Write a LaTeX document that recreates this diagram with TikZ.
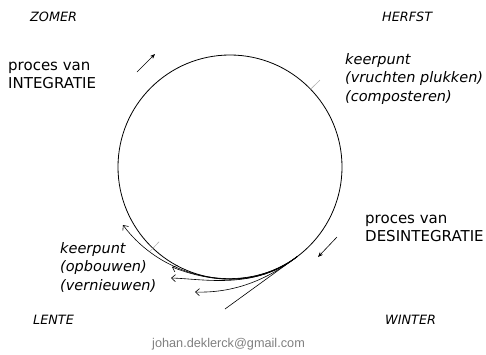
\documentclass[tikz,border=0pt]{standalone}
\usepackage{fontspec}
\setmainfont{DejaVu Sans}
\newfontfamily\mailfont{Liberation Sans}
\usetikzlibrary{arrows.meta, calc}

\begin{document}
\begin{tikzpicture}[
      x=1pt, y=-1pt,
      season/.style={anchor=base west, inner sep=0pt,
                     font=\fontsize{12.8}{15}\selectfont\itshape},
      procestext/.style={anchor=base west, inner sep=0pt, align=left,
                         font=\fontsize{15}{17.5}\selectfont},
      pivot/.style={anchor=base west, inner sep=0pt, align=left,
                    font=\fontsize{14.5}{18.3}\selectfont\itshape},
      ring/.style={draw, line width=0.8pt},
      notch/.style={draw=gray!60, line width=0.6pt},
      flow/.style={-{Stealth[length=5pt, width=4pt]}, line width=0.6pt},
      backarr/.style={-{Straight Barb[length=4pt, width=7pt]}, line width=0.6pt}
    ]
    \useasboundingbox (0,0) rectangle (486,354);

    % seasons
    \node[season] (zomer)  at (30,21.5)  {ZOMER};
    \node[season] (herfst) at (382,21.5) {HERFST};
    \node[season] (lente)  at (33,324.5) {LENTE};
    \node[season] (winter) at (385,324.5) {WINTER};

    % the cycle
    \coordinate (O) at (230,167);
    \draw[ring] (O) circle[radius=112];
    \draw[notch] ($(O)+(-44:112)$) -- ($(O)+(-44:125)$);
    \draw[notch] ($(O)+(133.5:103)$) -- ($(O)+(133.5:116)$);

    % texts (anchored on the last line)
    \node[procestext] (integr) at (8,88) {proces van\\INTEGRATIE};
    \node[procestext] (desint) at (365,241) {proces van\\DESINTEGRATIE};
    \node[pivot] (kpherfst) at (345,101) {keerpunt\\(vruchten plukken)\\(composteren)};
    \node[pivot] (kplente) at (60,290) {keerpunt\\(opbouwen)\\(vernieuwen)};
    \node[anchor=base west, inner sep=0pt, text=gray,
          font=\mailfont\fontsize{12.7}{15}\selectfont] (mail) at (152,347)
          {johan.deklerck@gmail.com};

    % direction of the cycle
    \coordinate (upA) at (137,72);
    \coordinate (upB) at (155,54);
    \coordinate (dnA) at (337,237);
    \coordinate (dnB) at (318,257);
    \draw[flow] (upA) -- (upB);
    \draw[flow] (dnA) -- (dnB);

    % turning back at the bottom
    \coordinate (T)  at ($(O)+(53:112)$);
    \coordinate (tg) at (225,309);
    \coordinate (kA) at (123,225);
    \coordinate (kB) at (172,267);
    \coordinate (kC) at (171,278);
    \coordinate (kD) at (195,292);
    \draw[line width=0.6pt] (T) -- (tg);
    \draw[backarr] (T) .. controls (243,297) and (163,279) .. (kA);
    \draw[backarr] (T) .. controls (255,290) and (205,280) .. (kB);
    \draw[backarr] (T) .. controls (255,290) and (205,279) .. (kC);
    \draw[backarr] (T) .. controls (262,284) and (228,293) .. (kD);
\end{tikzpicture}
\end{document}
